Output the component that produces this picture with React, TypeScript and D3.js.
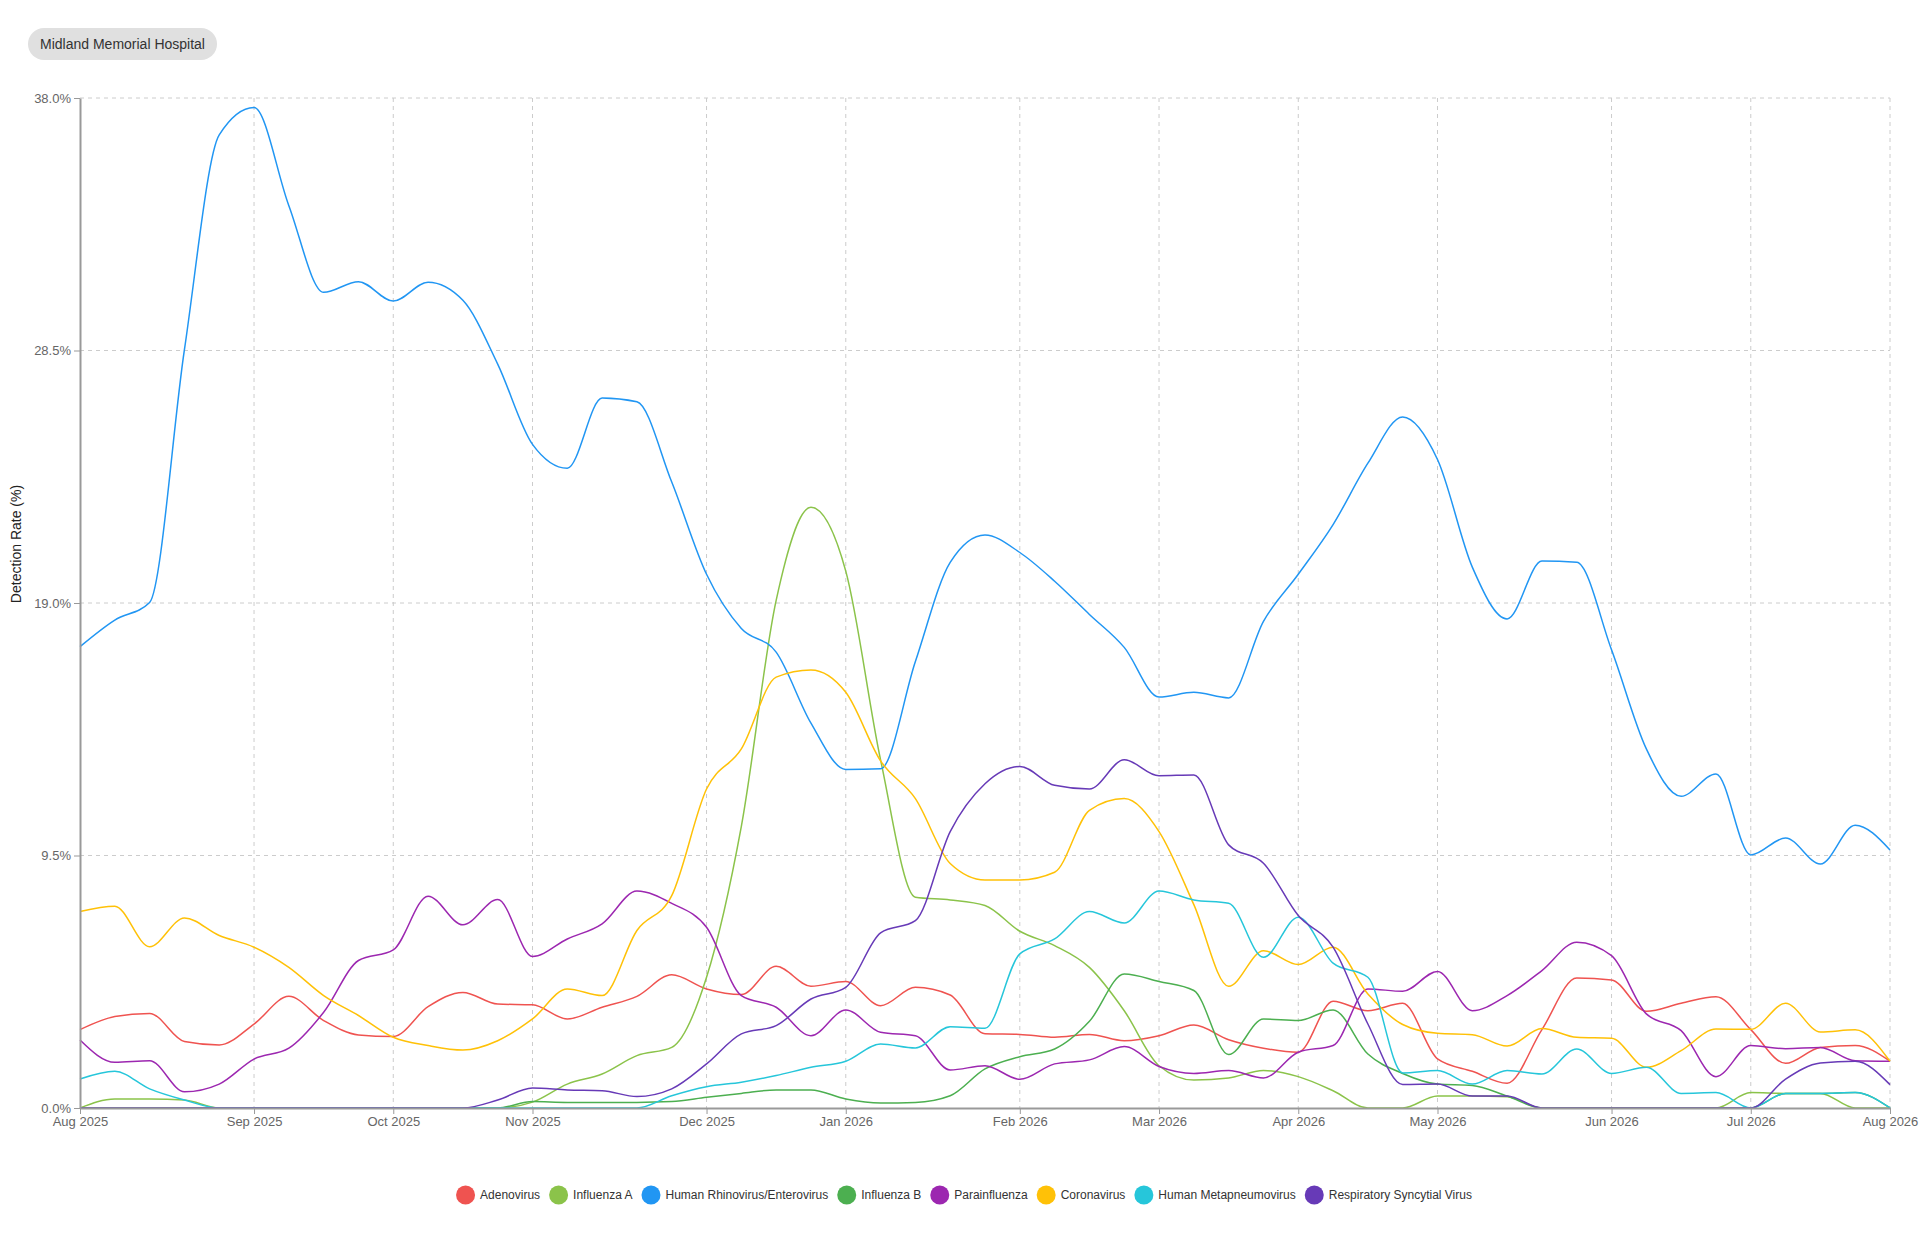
import * as d3 from "d3";
import { useEffect, useRef } from "react";

// weekly report dates (Saturdays)
const weeks = [
  "2025-08-02", "2025-08-09", "2025-08-16", "2025-08-23", "2025-08-30",
  "2025-09-06", "2025-09-13", "2025-09-20", "2025-09-27",
  "2025-10-04", "2025-10-11", "2025-10-18", "2025-10-25",
  "2025-11-01", "2025-11-08", "2025-11-15", "2025-11-22", "2025-11-29",
  "2025-12-06", "2025-12-13", "2025-12-20", "2025-12-27",
  "2026-01-03", "2026-01-10", "2026-01-17", "2026-01-24", "2026-01-31",
  "2026-02-07", "2026-02-14", "2026-02-21", "2026-02-28",
  "2026-03-07", "2026-03-14", "2026-03-21", "2026-03-28",
  "2026-04-04", "2026-04-11", "2026-04-18", "2026-04-25",
  "2026-05-02", "2026-05-09", "2026-05-16", "2026-05-23", "2026-05-30",
  "2026-06-06", "2026-06-13", "2026-06-20", "2026-06-27",
  "2026-07-04", "2026-07-11", "2026-07-18", "2026-07-25",
  "2026-08-01",
];

const yTicks = [0, 9.5, 19, 28.5, 38];

const adenovirus = [
  2.95, 3.44, 3.56, 2.5, 2.37, 3.16, 4.2, 3.29, 2.75, 2.69, 3.81, 4.35, 3.91, 3.88,
  3.35, 3.79, 4.2, 5.01, 4.48, 4.27, 5.33, 4.58, 4.76, 3.85, 4.54, 4.25, 2.79,
  2.77, 2.66, 2.77, 2.53, 2.72, 3.12, 2.57, 2.25, 2.1, 4.02, 3.66, 3.94,
  1.85, 1.38, 0.93, 2.95, 4.89, 4.82, 3.64, 3.94, 4.19, 2.95, 1.68, 2.28, 2.35, 1.76,
];

const influenzaA = [
  0, 0.34, 0.34, 0.3, 0, 0, 0, 0, 0, 0, 0, 0, 0, 0.22,
  0.9, 1.28, 1.97, 2.28, 4.92, 10.6, 19.1, 22.6, 20.2, 13.1, 7.93, 7.83, 7.62,
  6.65, 6.11, 5.29, 3.66, 1.59, 1.05, 1.13, 1.41, 1.18, 0.65, 0, 0,
  0.45, 0.45, 0.42, 0, 0, 0, 0, 0, 0, 0.58, 0.55, 0.55, 0, 0,
];

const rhinoEntero = [
  17.36, 18.36, 19.02, 28.53, 36.61, 37.64, 33.95, 30.69, 31.09, 30.36, 31.07, 30.39, 27.99, 24.97,
  24.07, 26.71, 26.57, 23.55, 20.08, 18.04, 17.15, 14.48, 12.74, 12.76, 16.8, 20.53, 21.56,
  20.9, 19.82, 18.57, 17.33, 15.46, 15.64, 15.43, 18.31, 20.08, 21.95, 24.26, 26.0,
  24.4, 20.35, 18.4, 20.58, 20.53, 17.24, 13.51, 11.73, 12.57, 9.52, 10.16, 9.18, 10.64, 9.71,
];

const influenzaB = [
  0, 0, 0, 0, 0, 0, 0, 0, 0, 0, 0, 0, 0, 0.24,
  0.21, 0.21, 0.21, 0.24, 0.4, 0.55, 0.68, 0.68, 0.34, 0.19, 0.21, 0.46, 1.47,
  1.93, 2.22, 3.26, 5.04, 4.76, 4.42, 2.01, 3.35, 3.29, 3.69, 2.03, 1.3,
  0.9, 0.85, 0.45, 0, 0, 0, 0, 0, 0, 0, 0.55, 0.55, 0.58, 0,
];

const parainfluenza = [
  2.56, 1.72, 1.78, 0.61, 0.9, 1.84, 2.25, 3.6, 5.55, 5.95, 7.97, 6.89, 7.84, 5.7,
  6.36, 6.93, 8.16, 7.7, 6.8, 4.23, 3.79, 2.72, 3.69, 2.85, 2.72, 1.43, 1.59,
  1.08, 1.66, 1.81, 2.31, 1.56, 1.3, 1.41, 1.13, 2.1, 2.35, 4.48, 4.39,
  5.14, 3.66, 4.23, 5.17, 6.24, 5.73, 3.54, 2.91, 1.18, 2.35, 2.23, 2.28, 1.78, 1.76,
];

const coronavirus = [
  7.39, 7.59, 6.07, 7.15, 6.49, 6.05, 5.29, 4.23, 3.48, 2.66, 2.35, 2.18, 2.53, 3.35,
  4.48, 4.23, 6.68, 7.99, 12.0, 13.51, 16.21, 16.48, 15.64, 13.06, 11.64, 9.2, 8.58,
  8.58, 8.87, 11.2, 11.64, 10.4, 7.65, 4.58, 5.92, 5.4, 6.05, 4.29, 3.14,
  2.81, 2.76, 2.33, 2.99, 2.66, 2.62, 1.53, 2.16, 2.97, 2.96, 3.94, 2.86, 2.94, 1.76,
];

const metapneumovirus = [
  1.09, 1.38, 0.72, 0.3, 0, 0, 0, 0, 0, 0, 0, 0, 0, 0,
  0, 0, 0, 0.46, 0.8, 0.97, 1.22, 1.53, 1.76, 2.41, 2.26, 3.06, 3.0,
  5.8, 6.36, 7.39, 6.96, 8.16, 7.83, 7.7, 5.67, 7.18, 5.45, 4.92, 1.32,
  1.41, 0.9, 1.41, 1.28, 2.22, 1.3, 1.53, 0.55, 0.58, 0, 0.55, 0.55, 0.58, 0,
];

const rsv = [
  0, 0, 0, 0, 0, 0, 0, 0, 0, 0, 0, 0, 0.3, 0.75,
  0.68, 0.65, 0.43, 0.72, 1.66, 2.79, 3.1, 4.1, 4.54, 6.59, 7.05, 10.4, 12.2,
  12.85, 12.14, 12.0, 13.1, 12.5, 12.53, 9.9, 9.21, 7.24, 6.05, 3.16, 0.88,
  0.9, 0.45, 0.45, 0, 0, 0, 0, 0, 0, 0, 1.09, 1.69, 1.76, 0.88,
];

const series = [
  { name: "Adenovirus", color: "#ef5350", values: adenovirus },
  { name: "Influenza A", color: "#8bc34a", values: influenzaA },
  { name: "Human Rhinovirus/Enterovirus", color: "#2196f3", values: rhinoEntero },
  { name: "Influenza B", color: "#4caf50", values: influenzaB },
  { name: "Parainfluenza", color: "#9c27b0", values: parainfluenza },
  { name: "Coronavirus", color: "#ffc107", values: coronavirus },
  { name: "Human Metapneumovirus", color: "#26c6da", values: metapneumovirus },
  { name: "Respiratory Syncytial Virus", color: "#673ab7", values: rsv },
];

const FONT = "Arial, 'Liberation Sans', sans-serif";

export default function App() {
  const svgRef = useRef<SVGSVGElement | null>(null);
  const width = 1920;
  const height = 1246;

  useEffect(() => {
    document.body.style.margin = "0";
    const svg = d3.select(svgRef.current);
    svg.selectAll("*").remove();

    const margin = { top: 98, right: 30, bottom: 138, left: 80 };

    const x = d3
      .scalePoint<string>()
      .domain(weeks)
      .range([margin.left, width - margin.right]);

    const y = d3
      .scaleLinear()
      .domain([0, 38])
      .range([height - margin.bottom, margin.top]);

    // month ticks: first week of each month
    const parse = d3.timeParse("%Y-%m-%d");
    const monthTicks = weeks.filter(
      (w, i) => i === 0 || parse(w)!.getMonth() !== parse(weeks[i - 1])!.getMonth()
    );

    // Title pill
    const pill = svg.append("g");
    pill
      .append("rect")
      .attr("x", 28)
      .attr("y", 28)
      .attr("width", 189)
      .attr("height", 32)
      .attr("rx", 16)
      .attr("fill", "#e0e0e0");
    pill
      .append("text")
      .attr("x", 122.5)
      .attr("y", 44)
      .attr("dy", "0.35em")
      .attr("text-anchor", "middle")
      .attr("font-family", FONT)
      .attr("font-size", 14)
      .attr("fill", "#333")
      .text("Midland Memorial Hospital");

    // Grid
    const grid = svg.append("g");
    grid
      .selectAll("line.h")
      .data(yTicks.filter((d) => d > 0))
      .join("line")
      .attr("x1", margin.left)
      .attr("x2", width - margin.right)
      .attr("y1", (d) => y(d))
      .attr("y2", (d) => y(d))
      .attr("stroke", "#ccc")
      .attr("stroke-dasharray", "4,4");
    grid
      .selectAll("line.v")
      .data(monthTicks.slice(1))
      .join("line")
      .attr("x1", (d) => x(d)!)
      .attr("x2", (d) => x(d)!)
      .attr("y1", margin.top)
      .attr("y2", height - margin.bottom)
      .attr("stroke", "#ccc")
      .attr("stroke-dasharray", "4,4");

    // Lines
    const line = d3
      .line<number>()
      .x((_, i) => x(weeks[i])!)
      .y((d) => y(d))
      .curve(d3.curveMonotoneX);

    svg
      .append("g")
      .selectAll("path")
      .data(series)
      .join("path")
      .attr("d", (s) => line(s.values))
      .attr("fill", "none")
      .attr("stroke", (s) => s.color)
      .attr("stroke-width", 1.5);

    // X axis
    const xAxis = svg
      .append("g")
      .attr("transform", `translate(0,${height - margin.bottom})`)
      .call(
        d3
          .axisBottom(x)
          .tickValues(monthTicks)
          .tickSize(6)
          .tickSizeOuter(0)
          .tickFormat((d) => d3.timeFormat("%b %Y")(parse(d)!))
      );
    xAxis.select(".domain").attr("stroke", "#999").attr("stroke-width", 2);
    xAxis.selectAll(".tick line").attr("stroke", "#999");
    xAxis
      .selectAll(".tick text")
      .attr("font-family", FONT)
      .attr("font-size", 13)
      .attr("fill", "#666");

    // Y axis
    const yAxis = svg
      .append("g")
      .attr("transform", `translate(${margin.left},0)`)
      .call(
        d3
          .axisLeft(y)
          .tickValues(yTicks)
          .tickSize(6)
          .tickSizeOuter(0)
          .tickFormat((d) => `${(+d).toFixed(1)}%`)
      );
    yAxis.select(".domain").attr("stroke", "#999").attr("stroke-width", 2);
    yAxis.selectAll(".tick line").attr("stroke", "#999");
    yAxis
      .selectAll(".tick text")
      .attr("font-family", FONT)
      .attr("font-size", 13)
      .attr("fill", "#666");

    // Y label
    svg
      .append("text")
      .attr("transform", "rotate(-90)")
      .attr("x", -544)
      .attr("y", 16)
      .attr("dy", "0.35em")
      .attr("text-anchor", "middle")
      .attr("font-family", FONT)
      .attr("font-size", 14)
      .attr("fill", "#222")
      .text("Detection Rate (%)");

    // Legend
    const legend = svg.append("g");
    let offset = 0;
    series.forEach((s) => {
      const item = legend.append("g").attr("transform", `translate(${offset},0)`);
      item.append("circle").attr("cx", 9.5).attr("cy", 0).attr("r", 9.5).attr("fill", s.color);
      const t = item
        .append("text")
        .attr("x", 24)
        .attr("dy", "0.35em")
        .attr("font-family", FONT)
        .attr("font-size", 12)
        .attr("fill", "#333")
        .text(s.name);
      const w = (t.node() as SVGTextElement).getComputedTextLength();
      offset += 24 + w + 9;
    });
    const total = offset - 9;
    legend.attr("transform", `translate(${(width - total) / 2 + 4},1195)`);
  }, []);

  return (
    <svg
      ref={svgRef}
      width={width}
      height={height}
      style={{ position: "absolute", left: 0, top: 0, background: "#fff" }}
    />
  );
}
